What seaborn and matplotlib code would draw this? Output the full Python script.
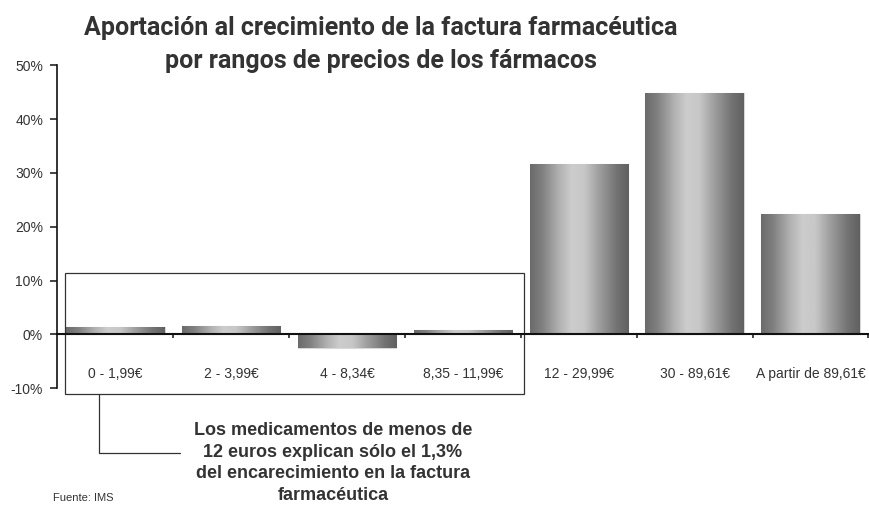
import numpy as np
import pandas as pd
import matplotlib
matplotlib.use("Agg")
import matplotlib.pyplot as plt
import seaborn as sns
from matplotlib.patches import Rectangle
from matplotlib.ticker import FuncFormatter, FixedLocator

# ---- data ----
categories = ['0 - 1,99€', '2 - 3,99€', '4 - 8,34€', '8,35 - 11,99€',
              '12 - 29,99€', '30 - 89,61€', 'A partir de 89,61€']
values = [1.35, 1.65, -2.5, 0.8, 31.6, 44.8, 22.3]
y_ticks = [-10, 0, 10, 20, 30, 40, 50]

title_line1 = 'Aportación al crecimiento de la factura farmacéutica'
title_line2 = 'por rangos de precios de los fármacos'
note_text = ('Los medicamentos de menos de\n12 euros explican sólo el 1,3%\n'
             'del encarecimiento en la factura\nfarmacéutica')
source_text = 'Fuente: IMS'

sns.set_theme(style='white')
plt.rcParams['font.family'] = ['Liberation Sans', 'DejaVu Sans']

df = pd.DataFrame({'rango': categories, 'aporte': values})

W, H = 869, 507
fig = plt.figure(figsize=(W / 100, H / 100), dpi=100)
ax = fig.add_axes([57.4 / W, 1 - 388.3 / H, 811 / W, (388.3 - 65.3) / H])

sns.barplot(data=df, x='rango', y='aporte', color='#999999', width=0.85,
            edgecolor='#d8d8d8', linewidth=0.8, ax=ax, zorder=2)

# cylinder-like horizontal gradient inside each bar
pos = [0.0, 0.12, 0.3, 0.42, 0.55, 0.7, 0.88, 1.0]
lev = [0.42, 0.50, 0.70, 0.80, 0.78, 0.62, 0.45, 0.38]
grad = np.interp(np.linspace(0, 1, 256), pos, lev)[None, :]
for p in list(ax.patches):
    x0, y0 = p.get_x(), p.get_y()
    w, h = p.get_width(), p.get_height()
    im = ax.imshow(grad, extent=[x0, x0 + w, min(y0, y0 + h), max(y0, y0 + h)],
                   cmap='gray', vmin=0, vmax=1, aspect='auto',
                   interpolation='bilinear', zorder=2.5)
    im.set_clip_path(p)

ax.set_xlim(-0.5, len(categories) - 0.5)
ax.set_ylim(-10, 50)
ax.set_xlabel('')
ax.set_ylabel('')

# axes styling
for s in ['top', 'right']:
    ax.spines[s].set_visible(False)
ax.spines['left'].set_color('#111111')
ax.spines['left'].set_linewidth(1.2)
ax.spines['bottom'].set_position(('data', 0))
ax.spines['bottom'].set_color('#111111')
ax.spines['bottom'].set_linewidth(1.5)
ax.spines['bottom'].set_zorder(4)

ax.set_yticks(y_ticks)
ax.yaxis.set_major_formatter(FuncFormatter(lambda v, _: f'{v:.0f}%'))
ax.tick_params(axis='y', which='major', direction='out', length=5.3, width=1.1,
               color='#111111', pad=5, labelsize=10, labelcolor='#333333', left=True)

ax.set_xticks(range(len(categories)))
ax.set_xticklabels(categories)
ax.tick_params(axis='x', which='major', length=0, pad=23.5, labelsize=10,
               labelcolor='#333333')
ax.xaxis.set_minor_locator(FixedLocator(np.arange(0.5, len(categories), 1.0)))
ax.tick_params(axis='x', which='minor', direction='out', length=3, width=1.1,
               color='#111111', bottom=True)
ax.grid(False)

# annotation box around the first four bars
box = Rectangle((-0.434, -11.0), 3.963, 22.4, fill=False, edgecolor='#333333',
                linewidth=0.9, clip_on=False, zorder=3)
ax.add_patch(box)

# connector line from the box to the note
x_c = (99 - 57.4) / 115.8 - 0.5
x_end = (180 - 57.4) / 115.8 - 0.5
y_h = (334 - 452) / 5.38
ax.plot([x_c, x_c, x_end], [-11.0, y_h, y_h], color='#333333', linewidth=0.9,
        clip_on=False, zorder=3)

# titles
fig.text(381 / W, 1 - 35 / H, title_line1, ha='center', va='baseline',
         fontsize=18, fontweight='bold', color='#333333', family=['Roboto', 'DejaVu Sans'])
fig.text(381 / W, 1 - 68 / H, title_line2, ha='center', va='baseline',
         fontsize=18, fontweight='bold', color='#333333', family=['Roboto', 'DejaVu Sans'])

# note text
fig.text(333 / W, 1 - 463 / H, note_text, ha='center', va='center',
         multialignment='center', fontsize=13, fontweight='bold',
         color='#333333', linespacing=1.36)

fig.text(53 / W, 1 - 498 / H, source_text, ha='left', va='center',
         fontsize=8, color='#333333')

fig.savefig('out.png', dpi=100)
